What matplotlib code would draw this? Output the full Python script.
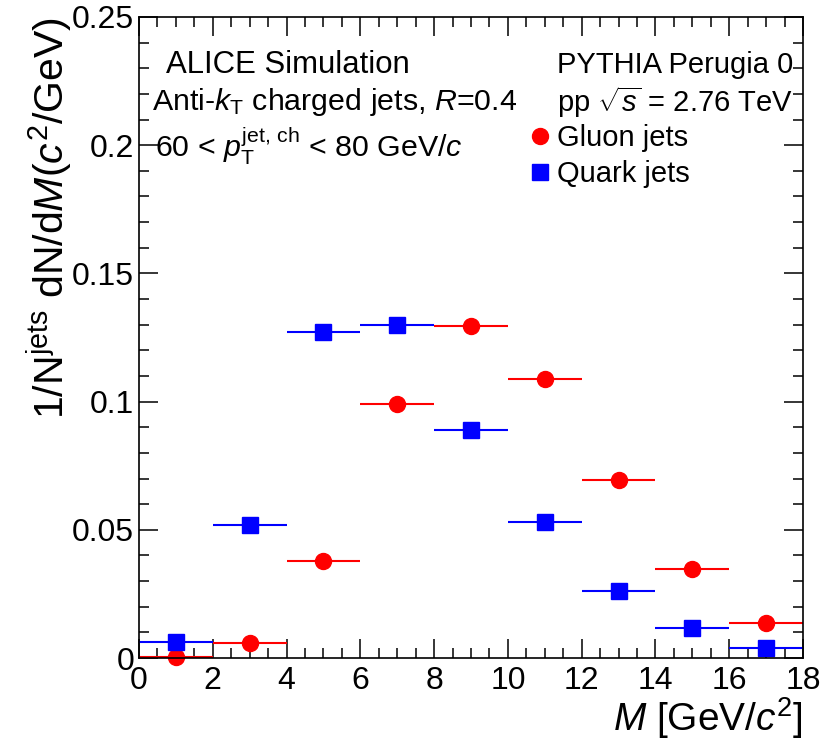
import numpy as np
import matplotlib
matplotlib.use("Agg")
import matplotlib.pyplot as plt
from matplotlib.lines import Line2D

# bin centres and half widths (GeV/c^2)
mass = [1, 3, 5, 7, 9, 11, 13, 15, 17]
half_width = [1, 1, 1, 1, 1, 1, 1, 1, 1]

# 1/N dN/dM
gluon = [0.0003, 0.0058, 0.0378, 0.0990, 0.1295, 0.1090, 0.0694, 0.0347, 0.0137]
quark = [0.0062, 0.0519, 0.1272, 0.1298, 0.0889, 0.0530, 0.0261, 0.0117, 0.0039]

plt.rcParams['font.family'] = ['Liberation Sans', 'DejaVu Sans']
plt.rcParams['mathtext.fontset'] = 'custom'
plt.rcParams['mathtext.rm'] = 'Liberation Sans'
plt.rcParams['mathtext.it'] = 'Liberation Sans:italic'
plt.rcParams['mathtext.bf'] = 'Liberation Sans:bold'

W, H = 832, 740
fig = plt.figure(figsize=(W / 100, H / 100), dpi=100)
ax = fig.add_axes([139 / W, 1 - 658 / H, (803 - 139) / W, (658 - 17) / H])

g = ax.errorbar(mass, gluon, xerr=half_width, fmt='o', color='red', ms=11.5,
                elinewidth=1.5, capsize=0, mec='red')
q = ax.errorbar(mass, quark, xerr=half_width, fmt='s', color='blue', ms=11,
                elinewidth=1.5, capsize=0, mec='blue')
for cont in (g, q):
    for art in cont.get_children():
        art.set_clip_on(False)

ax.set_xlim(0, 18)
ax.set_ylim(0, 0.25)
ax.set_xticks(np.arange(0, 19, 2))
ax.set_xticks(np.arange(0, 18.01, 0.5), minor=True)
ax.set_yticks([0, 0.05, 0.1, 0.15, 0.2, 0.25])
ax.set_yticklabels(['0', '0.05', '0.1', '0.15', '0.2', '0.25'])
ax.set_yticks(np.arange(0, 0.2501, 0.01), minor=True)
ax.tick_params(which='both', direction='in', top=True, right=True,
               labelsize=23, width=1.1)
ax.tick_params(axis='x', pad=6)
ax.tick_params(axis='y', pad=3.5)
ax.tick_params(which='major', length=14)
ax.tick_params(which='minor', length=7)
for s in ax.spines.values():
    s.set_linewidth(1.2)

ax.set_xlabel(r'$M$ [GeV/$c^{2}$]', fontsize=28, loc='right')
ax.xaxis.set_label_coords(1.0, -0.058)
ax.set_ylabel(r'1/N$^{\mathrm{jets}}$ dN/d$M$($c^{2}$/GeV)', fontsize=29.5,
              loc='top')
ax.yaxis.set_label_coords(-0.097, 1.0)

def ftext(x, y, s, fs=21):
    fig.text(x / W, 1 - y / H, s, fontsize=fs, va='center', ha='left')

ftext(166, 65, 'ALICE Simulation', 22.4)
ftext(152, 102, r'Anti-$k_{\mathrm{T}}$ charged jets, $R$=0.4', 21.9)
ftext(155, 146, r'60 < $p_{\mathrm{T}}^{\mathrm{jet,\,ch}}$ < 80 GeV/$c$', 21.9)
ftext(557, 65, 'PYTHIA Perugia 0')
ftext(557, 102, r'pp $\sqrt{s}$ = 2.76 TeV')

handles = [Line2D([], [], ls='none', marker='o', color='red', ms=11.5),
           Line2D([], [], ls='none', marker='s', color='blue', ms=11)]
ax.legend(handles, ['Gluon jets', 'Quark jets'], loc='upper left',
          bbox_to_anchor=((531 - 139) / (803 - 139), (658 - 124) / (658 - 17)),
          frameon=False, fontsize=21, handlelength=0.6, handletextpad=0.28,
          borderpad=0, labelspacing=0.28, borderaxespad=0)

fig.savefig('out.png', dpi=100)
